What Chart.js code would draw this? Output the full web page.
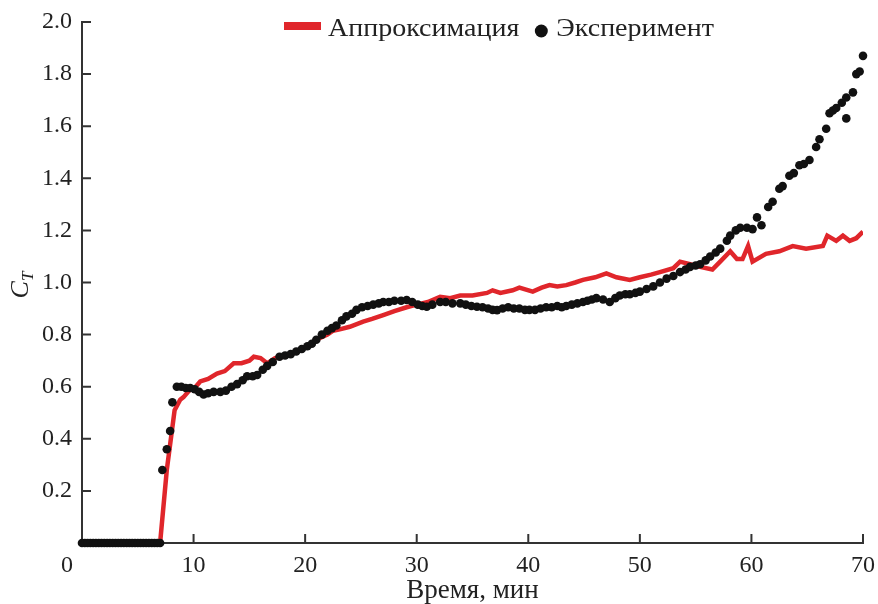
<!DOCTYPE html>
<html>
<head>
<meta charset="utf-8">
<script src="https://cdn.jsdelivr.net/npm/chart.js@4.4.0/dist/chart.umd.min.js"></script>
<style>
  html, body { margin: 0; padding: 0; background: #fff; }
  #wrap { width: 878px; height: 604px; }
</style>
</head>
<body>
<div id="wrap"><canvas id="chart"></canvas></div>
<script>
const xTicks = [0, 10, 20, 30, 40, 50, 60, 70];
const yTicks = [0.2, 0.4, 0.6, 0.8, 1.0, 1.2, 1.4, 1.6, 1.8, 2.0];
const seriesNames = ['Аппроксимация', 'Эксперимент'];

// аппроксимация, мин / C_T
const approxTime = [7.0, 7.6, 8.3, 8.8, 9.1, 9.7, 10.0, 10.6, 11.3, 12.1, 12.8, 13.6, 14.3, 15.0, 15.4, 16.0, 16.6, 17.3, 18.0, 19.0,
  20.1, 21.0, 22.0, 22.5, 23.1, 24.0, 25.2, 26.0, 27.0, 28.0, 29.1, 30.0, 31.0, 32.1, 33.0, 33.9, 35.0, 36.3, 36.8, 37.5,
  38.6, 39.2, 40.4, 41.2, 41.9, 42.6, 43.4, 44.2, 44.9, 46.0, 47.0, 47.9, 49.1, 50.0, 51.0, 51.8, 53.0, 53.6, 54.5, 55.4,
  56.5, 57.2, 58.1, 58.7, 59.2, 59.7, 60.1, 61.3, 62.5, 63.7, 64.9, 66.4, 66.8, 67.6, 68.2, 68.8, 69.4, 70.0];
const approxValue = [0, 0.28, 0.51, 0.55, 0.56, 0.59, 0.59, 0.62, 0.63, 0.65, 0.66, 0.69, 0.69, 0.70, 0.715, 0.71, 0.69, 0.71, 0.715, 0.73,
  0.755, 0.78, 0.80, 0.815, 0.82, 0.83, 0.85, 0.86, 0.875, 0.89, 0.905, 0.915, 0.925, 0.945, 0.94, 0.95, 0.95, 0.96, 0.97, 0.96,
  0.97, 0.98, 0.965, 0.98, 0.99, 0.985, 0.99, 1.00, 1.01, 1.02, 1.035, 1.02, 1.01, 1.02, 1.03, 1.04, 1.055, 1.08, 1.07, 1.06,
  1.05, 1.08, 1.12, 1.09, 1.09, 1.14, 1.08, 1.11, 1.12, 1.14, 1.13, 1.14, 1.18, 1.16, 1.18, 1.16, 1.17, 1.195];

// эксперимент
const expTime = [0, 0.25, 0.5, 0.75, 1.0, 1.25, 1.5, 1.75, 2.0, 2.25, 2.5, 2.75, 3.0, 3.25, 3.5, 3.75, 4.0, 4.25, 4.5, 4.75,
  5.0, 5.25, 5.5, 5.75, 6.0, 6.25, 6.5, 6.75, 7.0,
  7.2, 7.6, 7.9, 8.1, 8.5, 8.9, 9.3, 9.7, 10.1, 10.5, 10.9, 11.3, 11.8, 12.4, 12.9, 13.4, 13.9, 14.4, 14.8, 15.3,
  15.7, 16.2, 16.6, 17.1, 17.7, 18.2, 18.7, 19.2, 19.7, 20.2, 20.6, 21.0, 21.5, 22.0, 22.4, 22.8, 23.3, 23.7, 24.2, 24.6,
  25.1, 25.6, 26.1, 26.6, 27.0, 27.5, 28.0, 28.6, 29.1, 29.6, 30.1, 30.5, 30.9, 31.4, 32.1, 32.6, 33.2, 33.9, 34.4, 34.9,
  35.4, 35.9, 36.4, 36.8, 37.2, 37.7, 38.2, 38.7, 39.2, 39.7, 40.1, 40.6, 41.1, 41.6, 42.1, 42.6, 43.0, 43.4, 43.9, 44.4,
  44.9, 45.3, 45.7, 46.1, 46.7, 47.3, 47.8, 48.2, 48.7, 49.1, 49.6, 50.0, 50.6, 51.2, 51.8, 52.4, 53.0, 53.6, 54.1, 54.5,
  55.0, 55.4, 55.9, 56.3, 56.8, 57.2, 57.8, 58.1, 58.6, 59.0, 59.6, 60.1, 60.5, 60.9, 61.5, 61.9, 62.5, 62.8, 63.4, 63.8,
  64.3, 64.7, 65.2, 65.8, 66.1, 66.7, 67.0, 67.3, 67.6, 68.1, 68.5, 68.5, 69.1, 69.4, 69.7, 70.0];
const expValue = [0, 0, 0, 0, 0, 0, 0, 0, 0, 0, 0, 0, 0, 0, 0, 0, 0, 0, 0, 0,
  0, 0, 0, 0, 0, 0, 0, 0, 0,
  0.28, 0.36, 0.43, 0.54, 0.60, 0.60, 0.595, 0.595, 0.59, 0.58, 0.57, 0.575, 0.58, 0.58, 0.585, 0.60, 0.61, 0.625, 0.64, 0.64,
  0.645, 0.665, 0.68, 0.695, 0.715, 0.72, 0.725, 0.735, 0.745, 0.755, 0.765, 0.78, 0.80, 0.815, 0.825, 0.835, 0.855, 0.87, 0.88, 0.895,
  0.905, 0.91, 0.915, 0.92, 0.925, 0.925, 0.93, 0.93, 0.933, 0.925, 0.915, 0.91, 0.907, 0.915, 0.925, 0.925, 0.92, 0.92, 0.915, 0.91,
  0.907, 0.905, 0.90, 0.895, 0.894, 0.90, 0.905, 0.90, 0.90, 0.895, 0.895, 0.895, 0.90, 0.905, 0.905, 0.91, 0.905, 0.91, 0.915, 0.92,
  0.925, 0.93, 0.935, 0.94, 0.935, 0.925, 0.94, 0.95, 0.955, 0.955, 0.96, 0.965, 0.975, 0.985, 1.00, 1.015, 1.025, 1.04, 1.05, 1.06,
  1.065, 1.07, 1.085, 1.10, 1.115, 1.13, 1.16, 1.18, 1.20, 1.21, 1.21, 1.205, 1.25, 1.22, 1.29, 1.31, 1.36, 1.37, 1.41, 1.42,
  1.45, 1.455, 1.47, 1.52, 1.55, 1.59, 1.65, 1.66, 1.67, 1.69, 1.71, 1.63, 1.73, 1.80, 1.81, 1.87];

const RED = '#e0262b';
const INK = '#222';
const SERIF = '"Liberation Serif", "Times New Roman", serif';

function toPoints(xs, ys) {
  return xs.map((x, i) => ({ x, y: ys[i] }));
}

// text drawn slightly widened, the Cyrillic face here runs narrower
function wideText(ctx, text, x, y, stretch) {
  ctx.save();
  ctx.translate(x, y);
  ctx.scale(stretch, 1);
  ctx.fillText(text, 0, 0);
  ctx.restore();
  return ctx.measureText(text).width * stretch;
}

// inward tick marks, rotated C_T title and the legend inside the plot
const decor = {
  id: 'decor',
  afterDraw(chart) {
    const { ctx, chartArea: a, scales: { x, y } } = chart;
    ctx.save();
    ctx.strokeStyle = '#333';
    ctx.lineWidth = 2;
    ctx.beginPath();
    xTicks.forEach(t => {
      if (t === 0) return;
      const px = x.getPixelForValue(t);
      ctx.moveTo(px, a.bottom);
      ctx.lineTo(px, a.bottom - 9);
    });
    yTicks.forEach(v => {
      const py = y.getPixelForValue(v);
      ctx.moveTo(a.left, py);
      ctx.lineTo(a.left + 9, py);
    });
    ctx.stroke();

    // C_T
    ctx.save();
    ctx.translate(20, 285);
    ctx.rotate(-Math.PI / 2);
    ctx.fillStyle = INK;
    ctx.textBaseline = 'alphabetic';
    ctx.font = 'italic 26px ' + SERIF;
    const wc = ctx.measureText('C').width;
    ctx.font = 'italic 17px ' + SERIF;
    const wt = ctx.measureText('T').width;
    const x0 = -(wc + wt) / 2;
    ctx.font = 'italic 26px ' + SERIF;
    ctx.fillText('C', x0, 8);
    ctx.font = 'italic 17px ' + SERIF;
    ctx.fillText('T', x0 + wc, 13);
    ctx.restore();

    // legend
    ctx.font = '25px ' + SERIF;
    ctx.textBaseline = 'alphabetic';
    let lx = 284;
    ctx.fillStyle = RED;
    ctx.fillRect(lx, 22, 37, 8);
    ctx.fillStyle = INK;
    lx += 44 + wideText(ctx, seriesNames[0], lx + 44, 36, 1.12) + 22;
    ctx.beginPath();
    ctx.arc(lx, 31, 6.5, 0, Math.PI * 2);
    ctx.fillStyle = '#111';
    ctx.fill();
    ctx.fillStyle = INK;
    wideText(ctx, seriesNames[1], lx + 15, 36, 1.12);
    ctx.restore();
  }
};

new Chart(document.getElementById('chart'), {
  type: 'scatter',
  data: {
    datasets: [
      {
        label: seriesNames[0],
        data: toPoints(approxTime, approxValue),
        showLine: true,
        borderColor: RED,
        borderWidth: 4.5,
        pointRadius: 0,
        tension: 0,
        order: 2
      },
      {
        label: seriesNames[1],
        data: toPoints(expTime, expValue),
        showLine: false,
        backgroundColor: '#111',
        borderWidth: 0,
        pointRadius: 4.3,
        clip: false,
        order: 1
      }
    ]
  },
  options: {
    responsive: true,
    maintainAspectRatio: false,
    animation: false,
    layout: { padding: { top: 22, right: 15, bottom: 0, left: 0 } },
    plugins: { legend: { display: false }, tooltip: { enabled: false } },
    scales: {
      x: {
        type: 'linear',
        min: 0,
        max: 70,
        afterBuildTicks: s => { s.ticks = xTicks.map(v => ({ value: v })); },
        afterFit: s => { s.height = 61; s.paddingLeft = 0; s.paddingRight = 0; },
        grid: { display: false, drawTicks: false },
        border: { display: true, color: '#333', width: 2 },
        ticks: {
          font: { family: SERIF, size: 24 },
          color: INK,
          padding: 8,
          maxRotation: 0,
          callback: v => v === 0 ? '0     ' : String(v)
        },
        title: {
          display: true,
          text: 'Время, мин',
          font: { family: SERIF, size: 27 },
          color: INK,
          padding: { top: 0, bottom: -3 }
        }
      },
      y: {
        type: 'linear',
        min: 0,
        max: 2,
        afterBuildTicks: s => { s.ticks = yTicks.map(v => ({ value: v })); },
        afterFit: s => { s.width = 82; s.paddingTop = 0; s.paddingBottom = 0; },
        grid: { display: false, drawTicks: false },
        border: { display: true, color: '#333', width: 2 },
        ticks: {
          font: { family: SERIF, size: 24 },
          color: INK,
          padding: 10,
          callback: v => v.toFixed(1)
        }
      }
    }
  },
  plugins: [decor]
});
</script>
</body>
</html>
